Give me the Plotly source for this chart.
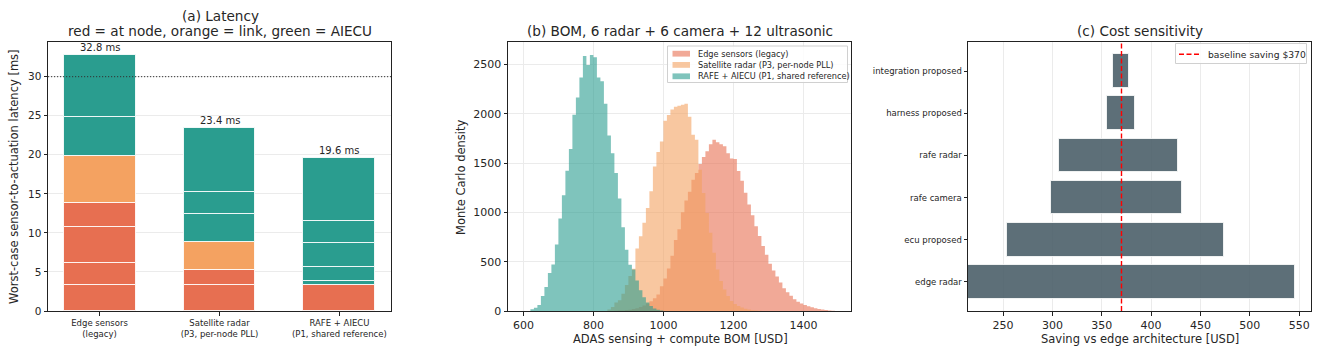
import numpy as np
import plotly.graph_objects as go

W, H = 1321, 354
FONT = "DejaVu Sans"
TXT = "#262626"

# ---------------- Panel (a): latency stacks ----------------
arch_labels = ["Edge sensors<br>(legacy)",
               "Satellite radar<br>(P3, per-node PLL)",
               "RAFE + AIECU<br>(P1, shared reference)"]
node_ms = [[3.3, 2.9, 4.5, 3.1], [3.3, 1.9], [3.3]]
link_ms = [[6.0], [3.6], []]
aiecu_ms = [[5.0, 8.0], [3.6, 2.9, 8.1], [0.5, 1.8, 3.1, 2.8, 8.1]]
total_labels = ["32.8 ms", "23.4 ms", "19.6 ms"]
deadline_ms = 30
lat_ticks = [0, 5, 10, 15, 20, 25, 30]

# ---------------- Panel (b): BOM Monte Carlo histograms ----------------
BIN_W = 10
edge_start = 860
edge_counts = [2, 4, 6, 9, 13, 20, 28, 40, 55, 75, 100, 130, 168, 250, 330, 430, 560,
               720, 830, 1000, 1120, 1210, 1330, 1400, 1490, 1560, 1620, 1690, 1735,
               1710, 1690, 1670, 1600, 1545, 1540, 1420, 1320, 1200, 1080, 970, 860,
               760, 660, 570, 480, 410, 350, 290, 230, 190, 155, 120, 95, 75, 60, 48,
               38, 28, 20, 14, 9, 5, 2]
sat_start = 840
sat_counts = [15, 40, 85, 110, 176, 263, 354, 428, 634, 758, 894, 1045, 1213, 1466,
              1611, 1719, 1928, 1987, 2042, 2070, 2080, 2090, 2100, 1970, 1786, 1735,
              1432, 1196, 994, 792, 590, 421, 303, 219, 152, 101, 70, 50, 35, 22, 14,
              8, 5, 3]
rafe_start = 620
rafe_counts = [17, 34, 61, 152, 243, 384, 472, 674, 937, 1173, 1423, 1642, 1989, 2164,
               2366, 2585, 2494, 2595, 2572, 2366, 2330, 2100, 1780, 1600, 1400, 1140,
               850, 620, 470, 420, 310, 210, 140, 85, 50, 25, 12, 5]
bom_names = ["Edge sensors (legacy)", "Satellite radar (P3, per-node PLL)",
             "RAFE + AIECU (P1, shared reference)"]
bom_xticks = [600, 800, 1000, 1200, 1400]
bom_yticks = [0, 500, 1000, 1500, 2000, 2500]

# ---------------- Panel (c): tornado ----------------
sens_params = ["edge radar", "ecu proposed", "rafe camera", "rafe radar",
               "harness proposed", "integration proposed"]
sens_low = [214.5, 253.7, 298.6, 306.8, 355.1, 361.5]
sens_high = [545.9, 474.3, 431.4, 427.0, 384.1, 377.4]
baseline_saving = 370
baseline_label = "baseline saving $370"
sens_xticks = [250, 300, 350, 400, 450, 500, 550]

RED, ORANGE, GREEN = "#E76F51", "#F4A261", "#2A9D8F"
HIST_COLS = ["rgba(231,111,81,0.6)", "rgba(244,162,97,0.6)", "rgba(42,157,143,0.6)"]
TORNADO = "rgba(69,90,100,0.87)"


def fx(px):
    return px / W


def fy(py):
    return 1 - py / H


fig = go.Figure()

# Panel (a) bars
for i in range(len(arch_labels)):
    cum = 0.0
    for segs, col in ((node_ms[i], RED), (link_ms[i], ORANGE), (aiecu_ms[i], GREEN)):
        for s in segs:
            fig.add_trace(go.Bar(x=[i], y=[s], base=[cum], width=0.6,
                                 marker=dict(color=col, line=dict(color="rgba(255,255,255,0.85)", width=1)),
                                 xaxis="x", yaxis="y", showlegend=False, hoverinfo="skip"))
            cum += s
    fig.add_annotation(x=i, y=cum, xref="x", yref="y", text=total_labels[i], showarrow=False,
                       xanchor="center", yanchor="bottom", yshift=0,
                       font=dict(size=10, family=FONT, color=TXT))

fig.add_shape(type="line", xref="x domain", yref="y", x0=0, x1=1, y0=deadline_ms, y1=deadline_ms,
              line=dict(color="#333333", width=1, dash="1.2px,1.8px"), layer="above")

# Panel (b) histograms as step-filled areas
for start, counts, col, name in ((edge_start, edge_counts, HIST_COLS[0], bom_names[0]),
                                 (sat_start, sat_counts, HIST_COLS[1], bom_names[1]),
                                 (rafe_start, rafe_counts, HIST_COLS[2], bom_names[2])):
    edges = start + BIN_W * np.arange(len(counts) + 1)
    ys = list(counts) + [counts[-1]]
    fig.add_trace(go.Scatter(x=edges, y=ys, mode="lines", line=dict(width=0, shape="hv", color=col),
                             fill="tozeroy", fillcolor=col, name=name, showlegend=False,
                             xaxis="x2", yaxis="y2", hoverinfo="skip"))

# Panel (c) tornado
fig.add_trace(go.Bar(y=list(range(len(sens_params))),
                     x=[h - l for l, h in zip(sens_low, sens_high)], base=sens_low,
                     orientation="h", width=0.8,
                     marker=dict(color=TORNADO, line=dict(color="rgba(255,255,255,0.8)", width=1)),
                     xaxis="x3", yaxis="y3", showlegend=False, hoverinfo="skip"))
fig.add_trace(go.Scatter(x=[baseline_saving, baseline_saving], y=[-0.69, 5.69], mode="lines",
                         line=dict(color="red", width=1.4, dash="5px,2.5px"),
                         name=baseline_label, showlegend=False,
                         xaxis="x3", yaxis="y3", hoverinfo="skip"))


def axis(domain, rng, grid, tickfont=11, **kw):
    d = dict(domain=domain, range=rng, showline=True, linecolor="#222", linewidth=1, mirror=True,
             ticks="outside", ticklen=3.5, tickwidth=1, tickcolor="#222", zeroline=False,
             showgrid=grid, gridcolor="#ebebeb", gridwidth=1, automargin=False,
             tickfont=dict(size=tickfont, family=FONT, color=TXT))
    d.update(kw)
    return d


ydom = [fy(311), fy(42)]
fig.update_layout(
    width=W, height=H, margin=dict(l=0, r=0, t=0, b=0, autoexpand=False),
    paper_bgcolor="white", plot_bgcolor="white",
    barmode="overlay", bargap=0, showlegend=False,
    font=dict(family=FONT, color=TXT),
    xaxis=axis([fx(48), fx(391)], [-0.43, 2.43], False, tickfont=8.5, anchor="y",
               tickvals=[0, 1, 2], ticktext=arch_labels),
    yaxis=axis(ydom, [0, 34.44], True, tickfont=10.5, anchor="x", tickvals=lat_ticks),
    xaxis2=axis([fx(508), fx(851)], [556, 1536], True, anchor="y2", tickvals=bom_xticks),
    yaxis2=axis(ydom, [0, 2727], True, anchor="x2", tickvals=bom_yticks),
    xaxis3=axis([fx(968), fx(1311)], [214.5, 562], True, anchor="y3", tickvals=sens_xticks),
    yaxis3=axis(ydom, [-0.69, 5.69], False, tickfont=8.5, anchor="x3",
                tickvals=list(range(len(sens_params))), ticktext=sens_params),
)

# ---- custom legend for panel (b) ----
fig.add_shape(type="rect", xref="paper", yref="paper", x0=fx(667.5), x1=fx(847.5), y0=fy(82.5), y1=fy(46),
              line=dict(color="#d0d0d0", width=1), fillcolor="rgba(255,255,255,0.85)", layer="above")
row_y = [53.7, 64.9, 76.3]
for ry, col, name in zip(row_y, HIST_COLS, bom_names):
    fig.add_shape(type="rect", xref="paper", yref="paper", x0=fx(672.5), x1=fx(690), y0=fy(ry + 2.9),
                  y1=fy(ry - 2.9), line=dict(width=0), fillcolor=col, layer="above")
    fig.add_annotation(x=fx(695.5), y=fy(ry), xref="paper", yref="paper", text=name, showarrow=False,
                       xanchor="left", yanchor="middle", font=dict(size=8.2, family=FONT, color=TXT))

# ---- custom legend for panel (c) ----
fig.add_shape(type="rect", xref="paper", yref="paper", x0=fx(1175.5), x1=fx(1306.5), y0=fy(63.5), y1=fy(43.5),
              line=dict(color="#d0d0d0", width=1), fillcolor="rgba(255,255,255,0.85)", layer="above")
fig.add_shape(type="line", xref="paper", yref="paper", x0=fx(1179), x1=fx(1200), y0=fy(54.3), y1=fy(54.3),
              line=dict(color="red", width=1.4, dash="5px,2.5px"), layer="above")
fig.add_annotation(x=fx(1205.5), y=fy(54), xref="paper", yref="paper", text=baseline_label, showarrow=False,
                   xanchor="left", yanchor="middle", font=dict(size=9.2, family=FONT, color=TXT))

ann = dict(xref="paper", yref="paper", showarrow=False, xanchor="center", yanchor="middle",
           font=dict(family=FONT, color=TXT, size=13.6))
fig.add_annotation(x=fx(220), y=fy(15.7), text="(a) Latency", **ann)
fig.add_annotation(x=fx(220), y=fy(30.7), text="red = at node, orange = link, green = AIECU", **ann)
fig.add_annotation(x=fx(680), y=fy(30.7), text="(b) BOM, 6 radar + 6 camera + 12 ultrasonic", **ann)
fig.add_annotation(x=fx(1140), y=fy(30.7), text="(c) Cost sensitivity", **ann)

lab = dict(xref="paper", yref="paper", showarrow=False, xanchor="center", yanchor="middle",
           font=dict(family=FONT, color=TXT, size=11.5))
fig.add_annotation(x=fx(14), y=fy(177), text="Worst-case sensor-to-actuation latency [ms]", textangle=-90, **lab)
fig.add_annotation(x=fx(461), y=fy(177), text="Monte Carlo density", textangle=-90, **lab)
fig.add_annotation(x=fx(680), y=fy(339), text="ADAS sensing + compute BOM [USD]", **lab)
fig.add_annotation(x=fx(1140), y=fy(339), text="Saving vs edge architecture [USD]", **lab)

fig.write_html("out.html")
